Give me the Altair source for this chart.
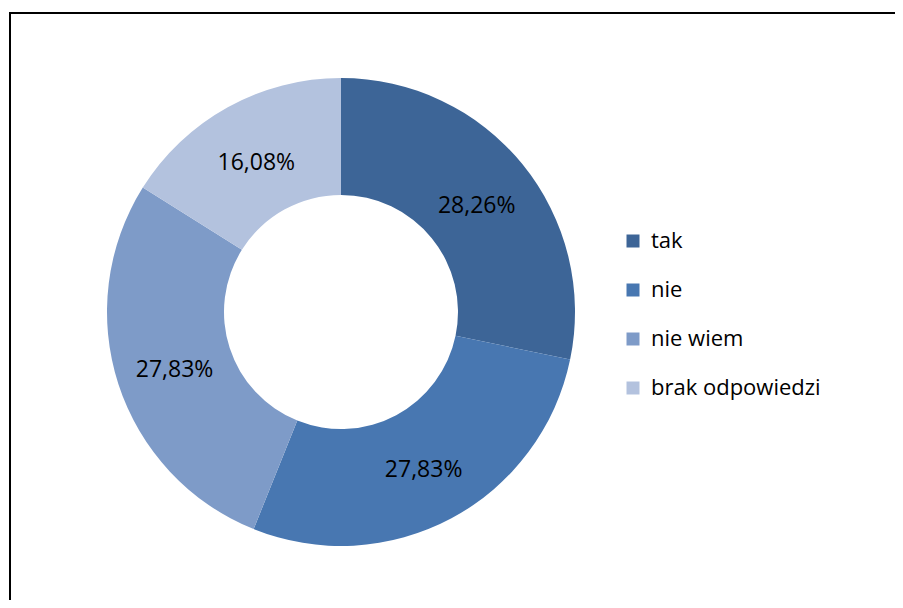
import altair as alt
import pandas as pd

categories = ["tak", "nie", "nie wiem", "brak odpowiedzi"]
values = [28.26, 27.83, 27.83, 16.08]
labels = ["28,26%", "27,83%", "27,83%", "16,08%"]
colors = ["#3D6597", "#4877B1", "#7E9BC8", "#B3C2DE"]

df = pd.DataFrame({"cat": categories, "value": values, "label": labels,
                   "idx": list(range(len(categories)))})

W, H = 887, 592
CX, CY = 333, 304
FONT = "Open Sans"

color = alt.Color(
    "cat:N",
    scale=alt.Scale(domain=categories, range=colors),
    sort=categories,
    legend=alt.Legend(
        title=None, orient="none", legendX=614, legendY=222,
        symbolType="square", symbolSize=169, symbolStrokeWidth=0,
        symbolOpacity=1, labelFontSize=22, labelFont=FONT, labelColor="#000000",
        labelOffset=7, rowPadding=27, labelLimit=400,
    ),
)

base = alt.Chart(df).encode(
    theta=alt.Theta("value:Q", stack=True),
    order=alt.Order("idx:Q"),
)

arc = base.mark_arc(innerRadius=117, outerRadius=234).encode(
    color=color, x=alt.value(CX), y=alt.value(CY)
)

text = base.mark_text(radius=175, fontSize=23, font=FONT, color="#000000", dy=4).encode(
    text="label:N", x=alt.value(CX), y=alt.value(CY)
)

one = alt.Chart(pd.DataFrame({"a": [0]}))
top_rule = one.mark_rule(color="#000000", strokeWidth=2).encode(
    x=alt.value(1), x2=alt.value(W), y=alt.value(5)
)
left_rule = one.mark_rule(color="#000000", strokeWidth=2).encode(
    x=alt.value(2), y=alt.value(4), y2=alt.value(H)
)

chart = alt.layer(arc, text, top_rule, left_rule).properties(
    width=W, height=H, autosize=alt.AutoSizeParams(type="none"), padding=0
).configure_view(stroke=None)

chart.save("out.html", embed_options={"renderer": "svg", "actions": False})
